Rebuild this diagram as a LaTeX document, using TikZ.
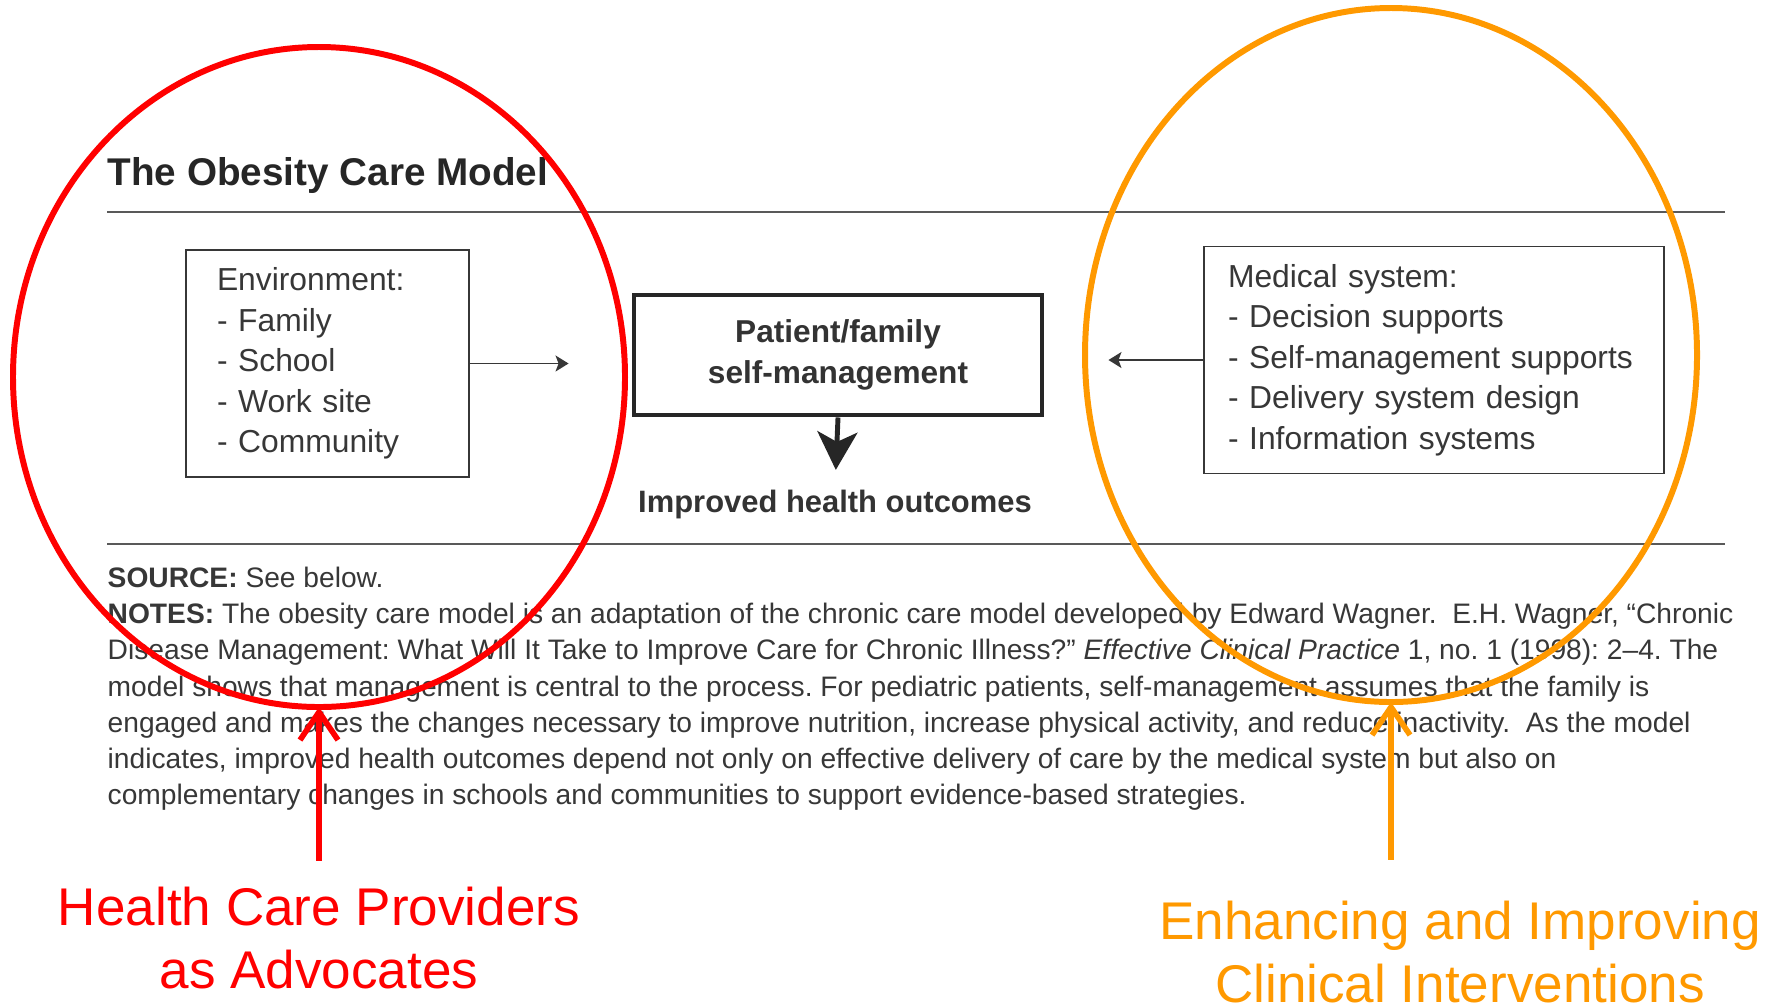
\documentclass[tikz,border=0pt]{standalone}
\usepackage{fontspec}
\setmainfont{Liberation Sans}
\frenchspacing
\usetikzlibrary{positioning,calc,arrows.meta,shapes.geometric}
\definecolor{ringred}{RGB}{255,0,0}
\definecolor{ringorange}{RGB}{255,153,0}
\definecolor{inkgray}{RGB}{55,55,55}
\tikzset{rule/.style={draw=black!65, line width=0.6pt}}
\tikzset{listbox/.style={draw=inkgray, line width=0.45pt, inner ysep=0pt, minimum height=2.27cm, align=left, text=inkgray, execute at begin node={\hyphenpenalty=10000}, font=\fontsize{9.05}{11.5}\selectfont}}
\tikzset{corebox/.style={draw=black!85, line width=1.4pt, minimum width=4.08cm, minimum height=1.20cm, align=center, text=black!80, font=\bfseries\fontsize{9}{11.5}\selectfont}}
\tikzset{arr1/.style={draw=inkgray, line width=0.4pt, -{Stealth[length=0.13cm, width=0.16cm, inset=0.03cm]}}}
\tikzset{arr3/.style={draw=black!85, line width=1.4pt, -{Stealth[length=0.38cm, width=0.40cm, inset=0.1cm]}}}
\tikzset{ring/.style={ellipse, draw, line width=1.7pt, inner sep=0pt, outer sep=0pt}}
\tikzset{callout/.style={line width=1.6pt, -{Straight Barb[length=0.28cm, width=0.38cm]}}}
\tikzset{tag/.style={align=center, inner xsep=0pt, font=\fontsize{15.1}{18.2}\selectfont}}

\begin{document}
\begin{tikzpicture}
\useasboundingbox (0,0) rectangle (17.65,-10.04);
\node[anchor=west, inner sep=0pt, text=black!85, font=\bfseries\fontsize{11}{13}\selectfont] (title) at (1.07,-1.755) {The Obesity Care Model};
\draw[rule] (1.07,-2.12) -- (17.25,-2.12);
\draw[rule] (1.07,-5.44) -- (17.25,-5.44);
%
\node[listbox, inner xsep=0.31cm, text width=2.21cm] (env) at (3.275,-3.635) {Environment:\\- Family\\- School\\- Work site\\- Community};
\node[corebox] (core) at (8.38,-3.55) {Patient/family\\self-management};
\node[listbox, inner xsep=0.24cm, text width=4.12cm] (med) at (14.34,-3.60) {Medical system:\\- Decision supports\\- Self-management supports\\- Delivery system design\\- Information systems};
\node[inner sep=0pt, text=black!80, font=\bfseries\fontsize{8.8}{11}\selectfont] (out) at (8.35,-5.04) {Improved health outcomes};
%
\draw[arr1, shorten >=0.63cm] (env.east) -- (env.east -| core.west);
\draw[arr1, shorten >=0.64cm] (med.west) -- (med.west -| core.east);
\draw[arr3, shorten >=0.19cm] (core.south) -- (out.north);
%
\node[anchor=north west, inner sep=0pt, align=left, text=inkgray, font=\fontsize{8.02}{10.33}\selectfont] (notes) at (1.07,-5.66) {\textbf{SOURCE:} See below.\\
\textbf{NOTES:} The obesity care model is an adaptation of the chronic care model developed by Edward Wagner.\ \ E.H. Wagner, “Chronic\\
Disease Management: What Will It Take to Improve Care for Chronic Illness?” \textit{Effective Clinical Practice} 1, no. 1 (1998): 2–4. The\\
model shows that management is central to the process. For pediatric patients, self-management assumes that the family is\\
engaged and makes the changes necessary to improve nutrition, increase physical activity, and reduce inactivity.\ \ As the model\\
indicates, improved health outcomes depend not only on effective delivery of care by the medical system but also on\\
complementary changes in schools and communities to support evidence-based strategies.};
%
\node[ring, draw=ringred, minimum width=6.12cm, minimum height=6.60cm] (redring) at (3.19,-3.77) {};
\node[ring, draw=ringorange, minimum width=6.12cm, minimum height=6.94cm] (orangering) at (13.91,-3.55) {};
\node[tag, text=ringred, inner ysep=0.25cm] (advocates) at (3.19,-9.38) {Health Care Providers\\as Advocates};
\node[tag, text=ringorange, inner ysep=0.40cm] (clinical) at (14.60,-9.52) {Enhancing and Improving\\Clinical Interventions};
\draw[callout, ringred] (advocates.north) -- (redring.south);
\draw[callout, ringorange] (orangering.south |- clinical.north) -- (orangering.south);
\end{tikzpicture}
\end{document}
